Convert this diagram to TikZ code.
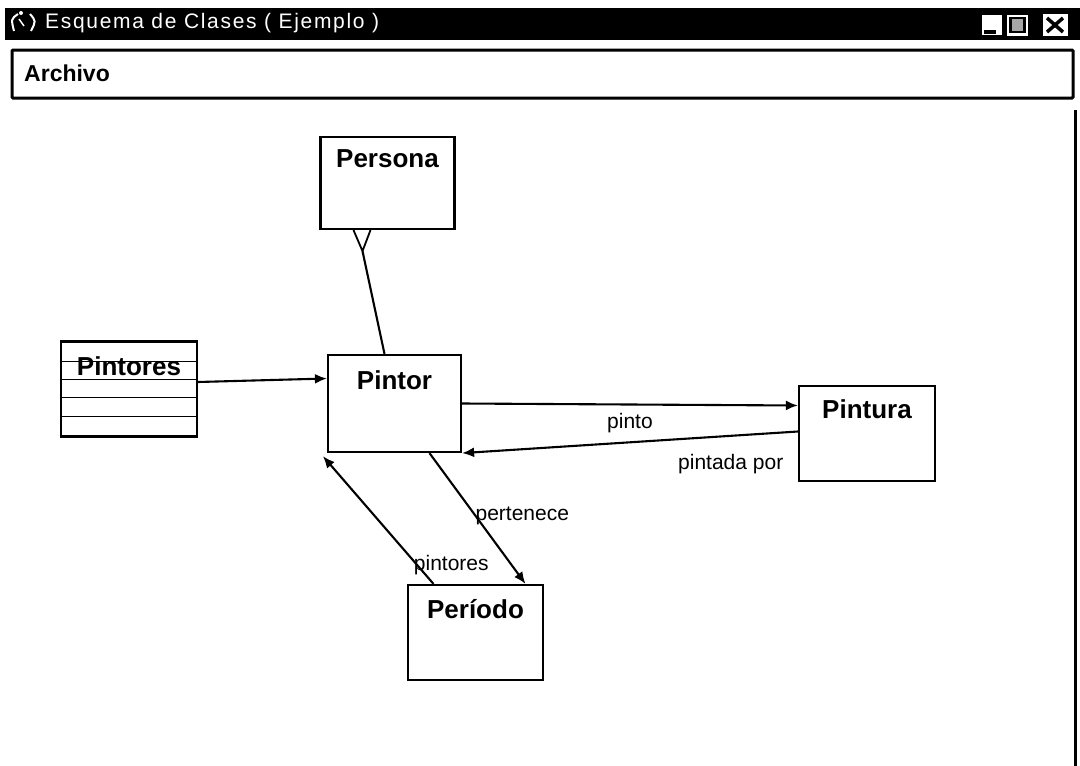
\documentclass[tikz,border=0pt]{standalone}
\usepackage{fontspec}
\setmainfont{Liberation Sans}
\usetikzlibrary{arrows.meta,shapes,calc}

\begin{document}
\begin{tikzpicture}[x=1pt,y=-1pt]
\tikzstyle{cls}=[rectangle, draw=black, line width=2.2pt, minimum width=134pt, minimum height=95pt, inner sep=0pt]
\tikzstyle{clstitle}=[font=\fontsize{26}{30}\selectfont\bfseries, inner sep=0pt]
\tikzstyle{connect}=[-{Latex[length=12pt,width=10pt]}, line width=2.1pt]
\tikzstyle{assoc}=[line width=2.1pt]
\tikzstyle{lbl}=[font=\fontsize{21}{24}\selectfont, inner sep=1pt]
\tikzstyle{btn}=[rectangle, fill=white, inner sep=0pt]

\useasboundingbox (0,0) rectangle (1080,766);

  % window title bar
  \fill[black] (5,8) rectangle (1080,40);
  \draw[white, line width=2pt] (18,14) .. controls (11,19) .. (14,31);
  \fill[white] (21,13) circle (2pt);
  \draw[white, line width=1.5pt] (19,19) -- (24,26);
  \draw[white, line width=2pt] (30,14) .. controls (36,21) .. (31,31);
  \node[font=\fontsize{21}{24}\selectfont\addfontfeatures{LetterSpace=8}, text=white, anchor=west, inner sep=0pt] (wtitle) at (45,23) {Esquema de Clases ( Ejemplo )};

  % window buttons
  \node[btn, minimum width=20pt, minimum height=20pt] (bmin) at (992,25) {};
  \fill[black] ([xshift=-8pt,yshift=-5pt]bmin.center) rectangle ([xshift=4pt,yshift=-9pt]bmin.center);
  \node[btn, minimum width=21pt, minimum height=21pt] (bmax) at (1017.5,25) {};
  \draw[black, fill=black!35, line width=2.5pt] ([xshift=-7pt,yshift=7pt]bmax.center) rectangle ([xshift=7pt,yshift=-7pt]bmax.center);
  \node[btn, minimum width=25pt, minimum height=22pt] (bclose) at (1055,25) {};
  \draw[black, line width=3.5pt] ([xshift=-8pt,yshift=7pt]bclose.center) -- ([xshift=8pt,yshift=-7pt]bclose.center)
                                  ([xshift=-8pt,yshift=-7pt]bclose.center) -- ([xshift=8pt,yshift=7pt]bclose.center);

  % menu bar and canvas border
  \draw[line width=3pt, rounded corners=1pt] (12,50) rectangle (1073,98);
  \node[font=\fontsize{23}{26}\selectfont\bfseries, anchor=west, inner sep=0pt] (menu) at (24,73) {Archivo};
  \draw[line width=3pt] (1075,110) -- (1075,766);

  % classes
  \node[cls, minimum height=92pt] (persona) at (387.5,183) {};
  \node[clstitle] (personaT) at ([yshift=-23pt]persona.north) {Persona};
  \node[cls, minimum width=133pt, minimum height=97pt] (pintor) at (394.5,403.5) {};
  \node[clstitle] (pintorT) at ([yshift=-26pt]pintor.north) {Pintor};
  \node[cls, minimum width=136pt] (pintura) at (867,433.5) {};
  \node[clstitle] (pinturaT) at ([yshift=-24pt]pintura.north) {Pintura};
  \node[cls, minimum width=135pt] (periodo) at (475.5,632.5) {};
  \node[clstitle] (periodoT) at ([yshift=-25pt]periodo.north) {Período};

  % table
  \node[cls, minimum width=136pt, minimum height=95pt] (pintores) at (129,389) {};
  \foreach \dy in {21,39,57,76}
    \draw[line width=1.8pt] ([yshift=-\dy pt]pintores.north west) -- ([yshift=-\dy pt]pintores.north east);
  \node[clstitle] (pintoresT) at ([yshift=-26pt]pintores.north) {Pintores};

  % generalisation fork
  \coordinate (fork) at ([xshift=-25pt,yshift=-21pt]persona.south);
  \draw[assoc] ([xshift=-10pt]pintor.north) -- (fork);
  \draw[line width=1.8pt] ([xshift=-34pt]persona.south) -- (fork) -- ([xshift=-17pt]persona.south);

  \path ([yshift=7pt]pintores.east) edge [connect] ([yshift=25pt]pintor.west)
        (pintor.east) edge [connect] node[lbl, below=7pt] {pinto} ([yshift=28pt]pintura.west)
        ([yshift=2pt]pintura.west) edge [connect] node[lbl, pos=0.2, below=16pt] {pintada por} (pintor.south east)
        ([xshift=35pt]pintor.south) edge [connect] node[lbl, pos=0.48, anchor=west, xshift=-2pt] {pertenece} ([xshift=50pt]periodo.north)
        ([xshift=-42pt]periodo.north) edge [connect] node[lbl, pos=0.15, anchor=west, xshift=-5pt] {pintores} ([xshift=-4pt,yshift=-3pt]pintor.south west);

\end{tikzpicture}
\end{document}
